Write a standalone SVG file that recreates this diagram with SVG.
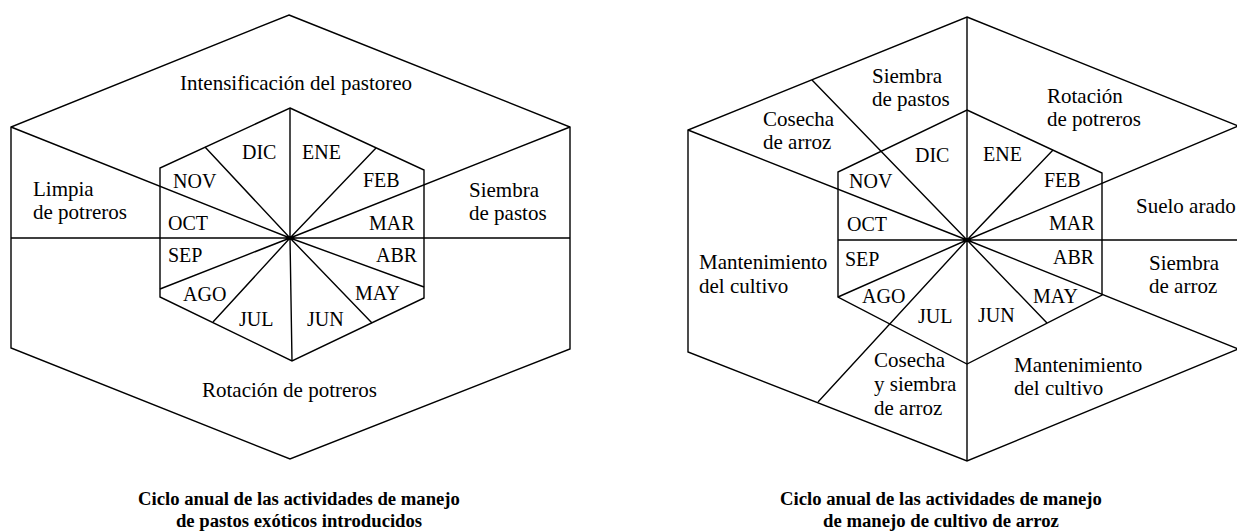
<svg xmlns="http://www.w3.org/2000/svg" width="1237" height="531" viewBox="0 0 1237 531">
<style>
.ln{fill:none;stroke:#000;stroke-width:1.4;stroke-linejoin:miter}
.t{font-family:"Liberation Serif","Times New Roman",serif;font-size:21px;fill:#000}
.m{font-family:"Liberation Serif","Times New Roman",serif;font-size:20px;fill:#000}
.ttl{font-family:"Liberation Serif","Times New Roman",serif;font-size:18.7px;font-weight:bold;fill:#000;text-anchor:middle}
</style>
<rect width="1237" height="531" fill="#fff"/>

<!-- LEFT DIAGRAM -->
<g id="left-diagram">
  <g id="left-connectors">
    <polygon class="ln" points="289,15 570,127 570,349 290,459 11,348 11,127"/>
    <polygon class="ln" points="290,108 424,170 424,298 292,361 160,297 160,168"/>
    <path class="ln" d="M290,238 L290,108 M290,238 L292,361 M11,238 L570,238 M290,238 L11,127 M290,238 L570,127 M290,238 L205,147 M290,238 L376,148 M290,238 L160,289 M290,238 L213,322 M290,238 L424,287 M290,238 L372,323"/>
  </g>
  <g id="left-activities">
    <text class="t" x="180" y="90">Intensificación del pastoreo</text>
    <text class="t" x="33" y="196">Limpia</text>
    <text class="t" x="33" y="219">de potreros</text>
    <text class="t" x="469" y="197">Siembra</text>
    <text class="t" x="469" y="220">de pastos</text>
    <text class="t" x="202" y="397">Rotación de potreros</text>
  </g>
  <g id="left-months">
    <text class="m" x="242" y="159">DIC</text>
    <text class="m" x="302" y="159">ENE</text>
    <text class="m" x="173" y="188">NOV</text>
    <text class="m" x="363" y="187">FEB</text>
    <text class="m" x="168" y="230">OCT</text>
    <text class="m" x="369" y="230">MAR</text>
    <text class="m" x="168" y="262">SEP</text>
    <text class="m" x="376" y="262">ABR</text>
    <text class="m" x="183" y="301">AGO</text>
    <text class="m" x="355" y="300">MAY</text>
    <text class="m" x="239" y="326">JUL</text>
    <text class="m" x="307" y="326">JUN</text>
  </g>
  <g id="left-title">
    <text class="ttl" x="299" y="505">Ciclo anual de las actividades de manejo</text>
    <text class="ttl" x="299" y="527">de pastos exóticos introducidos</text>
  </g>
</g>

<!-- RIGHT DIAGRAM -->
<g id="right-diagram">
  <g id="right-connectors">
    <polygon class="ln" points="967,17 1238,126 1238,349 967,461 688,352 688,130"/>
    <polygon class="ln" points="967,110 1102,173 1102,295 967,364 838,297 838,172"/>
    <path class="ln" d="M967,17 L967,461 M838,240 L1238,240 M967,240 L688,130 M967,240 L1238,126 M967,240 L1238,349 M967,240 L812,80 M967,240 L1053,150 M967,240 L838,297 M967,240 L818,402 M967,240 L1047,323"/>
  </g>
  <g id="right-activities">
    <text class="t" x="872" y="83">Siembra</text>
    <text class="t" x="872" y="106">de pastos</text>
    <text class="t" x="763" y="126">Cosecha</text>
    <text class="t" x="763" y="149">de arroz</text>
    <text class="t" x="1047" y="103">Rotación</text>
    <text class="t" x="1047" y="126">de potreros</text>
    <text class="t" x="1136" y="213">Suelo arado</text>
    <text class="t" x="1149" y="270">Siembra</text>
    <text class="t" x="1149" y="293">de arroz</text>
    <text class="t" x="699" y="269">Mantenimiento</text>
    <text class="t" x="699" y="293">del cultivo</text>
    <text class="t" x="874" y="367">Cosecha</text>
    <text class="t" x="874" y="391">y siembra</text>
    <text class="t" x="874" y="415">de arroz</text>
    <text class="t" x="1014" y="372">Mantenimiento</text>
    <text class="t" x="1014" y="395">del cultivo</text>
  </g>
  <g id="right-months">
    <text class="m" x="915" y="162">DIC</text>
    <text class="m" x="983" y="161">ENE</text>
    <text class="m" x="849" y="188">NOV</text>
    <text class="m" x="1044" y="187">FEB</text>
    <text class="m" x="847" y="231">OCT</text>
    <text class="m" x="1049" y="230">MAR</text>
    <text class="m" x="845" y="266">SEP</text>
    <text class="m" x="1053" y="264">ABR</text>
    <text class="m" x="862" y="303">AGO</text>
    <text class="m" x="1033" y="303">MAY</text>
    <text class="m" x="918" y="323">JUL</text>
    <text class="m" x="978" y="322">JUN</text>
  </g>
  <g id="right-title">
    <text class="ttl" x="941" y="505">Ciclo anual de las actividades de manejo</text>
    <text class="ttl" x="941" y="527">de manejo de cultivo de arroz</text>
  </g>
</g>
</svg>
